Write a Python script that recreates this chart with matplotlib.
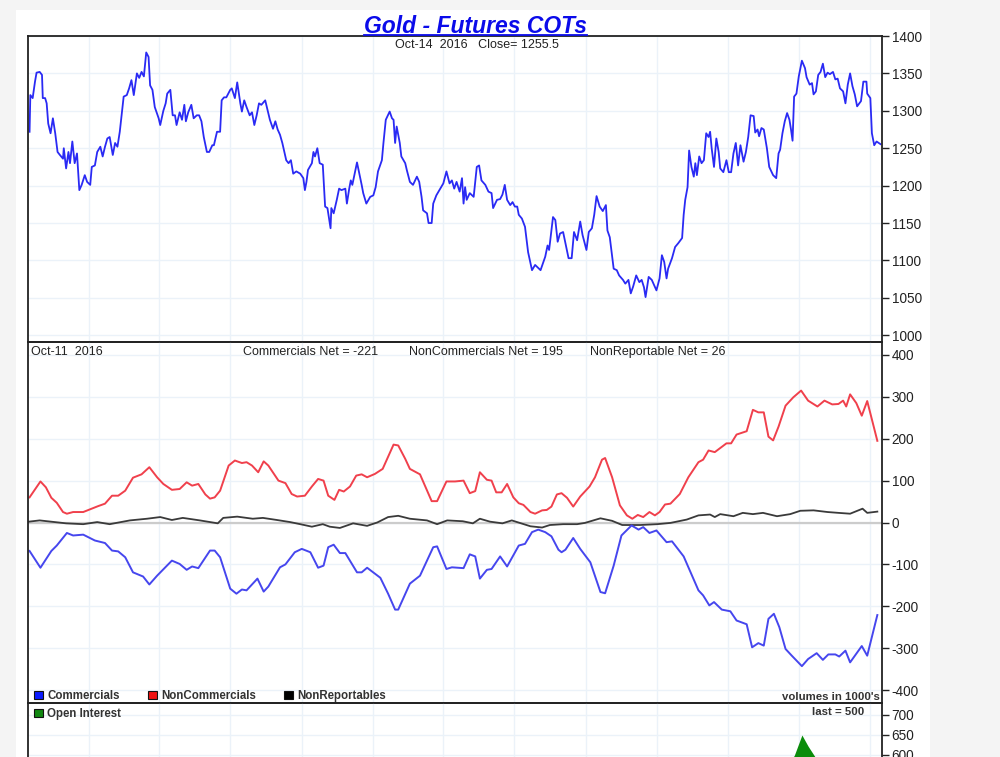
import matplotlib
matplotlib.use('Agg')
import matplotlib.pyplot as plt
from matplotlib.patches import Rectangle
from matplotlib.lines import Line2D
import pandas as pd

plt.rcParams['font.family'] = ['Liberation Sans', 'DejaVu Sans']
plt.rcParams['axes.unicode_minus'] = False

# days counted from 2013-10-14
start = pd.Timestamp('2013-10-14')
last_day = 1098

# gold close
price_day = [2, 3, 6, 9, 11, 15, 18, 19, 22, 24, 26, 29, 32, 35, 38, 41, 45, 46, 49, 52,
             54, 57, 60, 63, 66, 69, 73, 76, 80, 82, 86, 89, 93, 96, 99, 102, 105, 109, 112, 115,
             118, 123, 127, 130, 133, 136, 140, 143, 146, 149, 152, 155, 157, 160, 163, 168, 170, 174, 177, 179,
             183, 186, 189, 191, 195, 198, 201, 203, 206, 210, 213, 217, 220, 223, 226, 230, 233, 237, 239, 243,
             247, 249, 252, 255, 260, 262, 266, 269, 273, 275, 278, 281, 285, 288, 291, 294, 297, 300, 305, 308,
             311, 315, 318, 321, 324, 327, 332, 335, 338, 341, 345, 350, 354, 356, 358, 360, 365, 367, 369, 372,
             375, 379, 382, 385, 387, 389, 390, 393, 397, 400, 403, 408, 410, 413, 415, 417, 420, 423, 426, 429,
             431, 435, 440, 444, 447, 450, 455, 457, 460, 465, 468, 470, 472, 474, 478, 480, 485, 487, 491, 495,
             500, 503, 506, 508, 513, 515, 519, 521, 525, 530, 534, 538, 542, 545, 548, 551, 555, 558, 560, 562,
             564, 568, 573, 577, 580, 583, 588, 592, 596, 598, 603, 607,
             610, 613, 616, 620, 623, 626, 629, 631, 635, 639, 643, 648, 652, 656, 659, 665, 668, 670, 675, 678,
             681, 684, 688, 691, 695, 699, 702, 706, 710, 713, 718, 721, 725, 728, 731, 735, 739, 743, 745, 748,
             753, 757, 760, 765, 768, 772, 775, 778, 782, 786, 789, 792, 794, 798, 802, 808, 812, 815, 818, 821,
             823, 828, 832, 836, 841, 843, 845, 848, 850, 853, 856, 858, 860, 863, 866, 869, 872, 875, 877, 879,
             882, 885, 888, 890, 894, 898, 901, 904, 907, 910, 913, 916, 920, 923, 926, 929, 933, 935, 938, 940,
             943, 946, 950, 953, 958, 962, 965, 967, 970, 973, 976, 979, 981, 983, 985, 988, 991, 995, 999, 1001,
             1005, 1008, 1010, 1013, 1016, 1019, 1022, 1025, 1028, 1031, 1035, 1038, 1041, 1044, 1048, 1051, 1054, 1057, 1060, 1063,
             1066, 1071, 1074, 1078, 1079, 1083, 1085, 1088, 1091, 1096]
price_close = [1272, 1321, 1317, 1339, 1351, 1352, 1348, 1317, 1317, 1310, 1283, 1270, 1290, 1270, 1245, 1241, 1236, 1250, 1223, 1245,
               1230, 1259, 1230, 1243, 1194, 1201, 1214, 1205, 1201, 1225, 1227, 1245, 1252, 1239, 1252, 1263, 1265, 1241, 1257, 1252,
               1272, 1319, 1321, 1330, 1341, 1321, 1350, 1344, 1352, 1346, 1378, 1372, 1334, 1328, 1305, 1290, 1281, 1300, 1310, 1323,
               1328, 1294, 1294, 1281, 1298, 1288, 1308, 1286, 1298, 1308, 1290, 1294, 1294, 1286, 1265, 1245, 1245, 1254, 1254, 1272,
               1272, 1314, 1318, 1318, 1328, 1330, 1317, 1338, 1310, 1299, 1314, 1305, 1294, 1298, 1281, 1294, 1310, 1308, 1314, 1301,
               1288, 1276, 1286, 1275, 1268, 1257, 1234, 1230, 1234, 1216, 1219, 1216, 1210, 1194, 1205, 1221, 1230, 1245, 1239, 1250,
               1230, 1228, 1172, 1170, 1156, 1143, 1170, 1163, 1181, 1196, 1194, 1196, 1176, 1196, 1207, 1201, 1216, 1231, 1216, 1201,
               1190, 1176, 1185, 1187, 1198, 1219, 1234, 1257, 1288, 1299, 1290, 1288, 1257, 1279, 1257, 1239, 1230, 1221, 1205, 1201,
               1212, 1205, 1185, 1167, 1163, 1150, 1150, 1176, 1187, 1196, 1203, 1219, 1203, 1207, 1196, 1205, 1192, 1210, 1176, 1198,
               1181, 1190, 1185, 1225, 1227, 1207, 1201, 1192, 1190, 1170, 1181, 1182,
               1188, 1201, 1181, 1174, 1178, 1172, 1172, 1161, 1156, 1145, 1111, 1087, 1094, 1090, 1087, 1105, 1120, 1114, 1158, 1154,
               1125, 1136, 1138, 1123, 1103, 1103, 1138, 1127, 1152, 1134, 1114, 1138, 1143, 1161, 1186, 1172, 1166, 1174, 1140, 1131,
               1089, 1087, 1080, 1074, 1069, 1074, 1056, 1065, 1080, 1071, 1074, 1064, 1051, 1078, 1074, 1060, 1076, 1107, 1098, 1076,
               1089, 1103, 1118, 1123, 1130, 1161, 1181, 1198, 1247, 1225, 1212, 1230, 1214, 1239, 1230, 1234, 1270, 1265, 1272, 1250,
               1225, 1263, 1245, 1223, 1218, 1234, 1218, 1218, 1243, 1257, 1227, 1254, 1232, 1245, 1265, 1294, 1293, 1271, 1275, 1266,
               1277, 1275, 1250, 1225, 1214, 1210, 1243, 1248, 1270, 1286, 1297, 1288, 1275, 1260, 1319, 1323, 1346, 1367, 1357, 1345,
               1335, 1337, 1322, 1326, 1348, 1352, 1363, 1345, 1351, 1349, 1352, 1342, 1343, 1330, 1326, 1310, 1335, 1350, 1333, 1322,
               1306, 1313, 1339, 1339, 1323, 1317, 1270, 1254, 1259, 1255.5]

# COT net positions (1000's of contracts)
comm_day = [2, 16, 30, 37, 50, 58, 71, 86, 99, 108, 116, 125, 135, 148, 156, 166, 185, 195, 204, 211,
            219, 234, 240, 247, 260, 268, 275, 281, 295, 303, 309, 324, 331, 343, 352, 363, 373, 380, 386, 393,
            401, 408, 423, 429, 436, 453, 463, 472, 476, 491, 504, 521, 526, 538, 545, 560, 568, 575, 581, 590,
            596, 607, 616, 631, 639, 648, 656, 665, 673, 682, 686, 691, 701, 710, 723, 736, 742, 753, 763, 776,
            785, 791, 799, 808, 821, 828, 843, 862, 868, 876, 882, 892, 903, 911, 924, 931, 939, 946, 952, 959,
            966, 974, 982, 995, 1003, 1014, 1022, 1029, 1038, 1043, 1051, 1057, 1072, 1079, 1092]
comm_net = [-68, -108, -68, -55, -25, -31, -29, -43, -49, -67, -69, -83, -119, -129, -148, -127, -91, -99, -113, -105,
            -109, -67, -67, -83, -158, -170, -160, -162, -134, -165, -153, -107, -100, -71, -63, -71, -108, -103, -59, -53,
            -73, -73, -119, -119, -108, -132, -170, -208, -208, -146, -127, -59, -57, -111, -107, -109, -76, -81, -134, -113,
            -111, -81, -105, -55, -51, -23, -17, -23, -33, -65, -71, -65, -37, -63, -95, -166, -169, -103, -31, -7,
            -17, -11, -25, -19, -47, -45, -81, -162, -174, -198, -190, -208, -212, -234, -243, -298, -288, -294, -230, -218,
            -250, -302, -318, -343, -326, -312, -328, -315, -315, -320, -306, -334, -295, -318, -221]

noncomm_day = [2, 16, 23, 30, 37, 45, 50, 58, 71, 82, 90, 99, 108, 116, 125, 135, 146, 156, 166, 174,
               185, 195, 204, 211, 219, 228, 234, 240, 247, 258, 266, 275, 281, 288, 296, 303, 309, 322, 331, 339,
               346, 356, 365, 373, 380, 386, 394, 400, 406, 414, 422, 429, 436, 446, 456, 470, 476, 485, 491, 504,
               519, 526, 538, 549, 560, 568, 575, 581, 590, 596, 602, 609, 616, 624, 631, 637, 646, 652, 661, 667,
               673, 680, 686, 693, 701, 710, 722, 729, 738, 742, 751, 761, 770, 777, 784, 791, 799, 806, 812, 819,
               826, 838, 849, 862, 868, 875, 883, 898, 904, 911, 924, 932, 939, 946, 952, 958, 965, 974, 984, 994,
               1003, 1015, 1024, 1034, 1042, 1048, 1052, 1057, 1065, 1072, 1079, 1092]
noncomm_net = [60, 98, 84, 59, 47, 25, 21, 25, 25, 33, 39, 45, 64, 64, 76, 107, 115, 132, 108, 92,
               78, 80, 96, 88, 92, 67, 57, 60, 76, 136, 148, 142, 144, 136, 120, 146, 136, 100, 94, 68,
               62, 64, 86, 104, 100, 64, 54, 78, 74, 86, 112, 115, 108, 116, 128, 186, 184, 152, 128, 115,
               51, 51, 98, 98, 100, 70, 75, 120, 102, 100, 72, 72, 92, 60, 46, 42, 25, 21, 29, 30,
               38, 67, 70, 59, 38, 62, 86, 108, 150, 154, 108, 41, 17, 9, 18, 13, 25, 17, 25, 43,
               45, 68, 108, 144, 150, 172, 168, 189, 189, 210, 218, 269, 263, 263, 205, 196, 229, 279, 299, 315,
               291, 277, 291, 282, 283, 291, 277, 306, 285, 255, 290, 195]

nonrep_day = [1, 15, 49, 71, 89, 105, 131, 153, 170, 185, 199, 221, 244, 251, 269, 289, 302, 320, 337, 350,
              365, 379, 388, 401, 418, 436, 449, 463, 476, 491, 513, 526, 539, 559, 572, 581, 594, 610, 622, 646,
              661, 671, 688, 706, 716, 736, 751, 764, 787, 809, 826, 847, 862, 877, 883, 890, 907, 919, 932, 945,
              963, 980, 993, 1010, 1028, 1042, 1057, 1073, 1079, 1092]
nonrep_net = [2, 5, -2, -4, 1, -4, 5, 9, 13, 6, 11, 5, -2, 11, 14, 9, 11, 6, 1, -4,
              -10, -4, -10, -13, -2, -8, 0, 13, 16, 9, 5, -4, 5, 3, -2, 9, 2, -2, 5, -9,
              -12, -6, -4, -4, -1, 10, 4, -6, -6, -4, -1, 7, 17, 19, 13, 20, 15, 23, 20, 23,
              15, 20, 28, 29, 25, 23, 21, 33, 23, 26]

# open interest (1000's)
oi_day = [0, 100, 200, 300, 400, 500, 600, 700, 800, 850, 900, 950, 985, 995, 1003, 1012, 1040, 1070, 1096]
oi_value = [390, 370, 400, 380, 390, 420, 390, 420, 390, 430, 480, 540, 598, 650, 622, 595, 560, 575, 500]


def dates(days):
    return start + pd.to_timedelta(days, unit='D')


fig = plt.figure(figsize=(10, 7.57), dpi=100)
fig.patch.set_facecolor('#f4f4f4')
fig.add_artist(Rectangle((0.016, 0), 0.914, 1 - 10 / 757, transform=fig.transFigure,
                         facecolor='white', edgecolor='none', zorder=-5))

ax1 = fig.add_axes([0.028, 1 - 342 / 757, 0.854, 306 / 757])
ax2 = fig.add_axes([0.028, 1 - 703 / 757, 0.854, 361 / 757], sharex=ax1)
ax3 = fig.add_axes([0.028, 1 - 875 / 757, 0.854, 172 / 757], sharex=ax1)

quarters = pd.date_range('2014-01-01', '2016-10-01', freq='QS')
for ax in (ax1, ax2, ax3):
    ax.set_facecolor('none')
    ax.set_axisbelow(True)
    ax.grid(True, color='#ebf2f9', linewidth=1)
    ax.yaxis.tick_right()
    ax.tick_params(axis='y', direction='out', length=5, width=1, labelsize=9.8, pad=2,
                   left=False, right=True, labelleft=False, labelright=True, colors='#222222')
    ax.tick_params(axis='x', length=0, labelbottom=False)
    for s in ax.spines.values():
        s.set_linewidth(1.3)
        s.set_color('#222222')
ax1.set_xticks(quarters)
ax1.set_xlim(start, start + pd.Timedelta(days=last_day))

# price panel
ax1.plot(dates(price_day), price_close, color='#2a2af4', linewidth=1.3)
ax1.set_ylim(991, 1400)
ax1.set_yticks(range(1000, 1401, 50))

# COT panel
ax2.axhline(0, color='#cccccc', linewidth=1.6, zorder=1.5)
ax2.plot(dates(nonrep_day), nonrep_net, color='#3a3a3a', linewidth=1.3)
ax2.plot(dates(noncomm_day), noncomm_net, color='#f0404c', linewidth=1.4)
ax2.plot(dates(comm_day), comm_net, color='#4646ee', linewidth=1.4)
ax2.set_ylim(-431, 431)
ax2.set_yticks(range(-400, 401, 100))

# open interest panel
ax3.fill_between(dates(oi_day), oi_value, 300, color='#0b8c0b', linewidth=0)
ax3.set_ylim(300, 730)
ax3.set_yticks([600, 650, 700])


def fx(px):
    return px / 1000


def fy(py):
    return 1 - py / 757


title = fig.text(fx(475), fy(33), 'Gold - Futures COTs', ha='center', va='baseline',
                 fontsize=16.5, fontweight='bold', fontstyle='italic', color='#0b0bea')
fig.canvas.draw()
bb = title.get_window_extent().transformed(fig.transFigure.inverted())
fig.add_artist(Line2D([bb.x0, bb.x1], [fy(34.5), fy(34.5)], transform=fig.transFigure,
                      color='#0b0bea', linewidth=1.3))

fig.text(fx(477), fy(48.5), 'Oct-14  2016   Close= 1255.5', ha='center', va='baseline',
         fontsize=9, color='#222222')

fig.text(fx(31), fy(355), 'Oct-11  2016', ha='left', va='baseline', fontsize=9, color='#222222')
fig.text(fx(243), fy(355), 'Commercials Net = -221', ha='left', va='baseline', fontsize=9, color='#222222')
fig.text(fx(409), fy(355), 'NonCommercials Net = 195', ha='left', va='baseline', fontsize=9, color='#222222')
fig.text(fx(590), fy(355), 'NonReportable Net = 26', ha='left', va='baseline', fontsize=9, color='#222222')

legend_items = [(34, 699, '#0a1aff', 'Commercials'),
                (148, 699, '#ee1111', 'NonCommercials'),
                (284, 699, '#000000', 'NonReportables'),
                (34, 717, '#118811', 'Open Interest')]
for lx, ly, col, lab in legend_items:
    fig.add_artist(Rectangle((fx(lx), fy(ly)), 0.0085, 8 / 757, transform=fig.transFigure,
                             facecolor=col, edgecolor='#111111', linewidth=0.8))
    fig.text(fx(lx + 13), fy(ly), lab, ha='left', va='baseline', fontsize=8.3,
             fontweight='bold', color='#333333')

fig.text(fx(880), fy(700.5), "volumes in 1000's", ha='right', va='baseline', fontsize=8.2,
         fontweight='bold', color='#333333')
fig.text(fx(864), fy(715), 'last = 500', ha='right', va='baseline', fontsize=8.2,
         fontweight='bold', color='#333333')

fig.savefig('out.png', dpi=100, facecolor=fig.get_facecolor())
